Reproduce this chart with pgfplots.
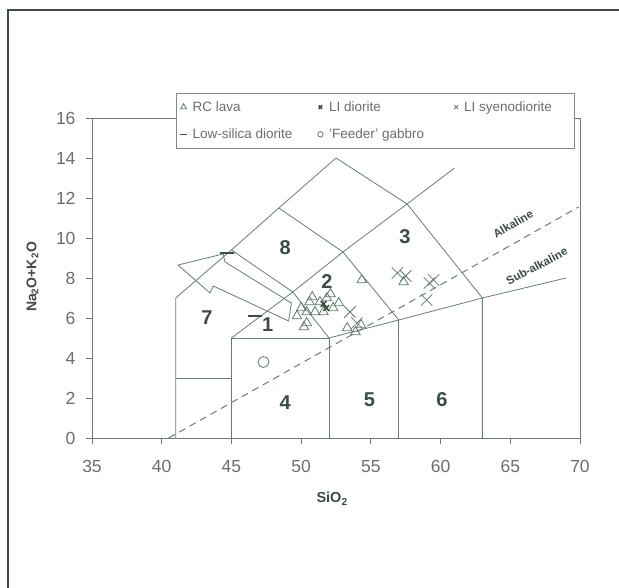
\documentclass[border=0pt]{standalone}
\usepackage{fontspec}
\setmainfont{Liberation Sans}
\usepackage{pgfplots}
\pgfplotsset{compat=1.18}
\definecolor{lc}{RGB}{100,128,110}
\definecolor{tc}{RGB}{105,112,106}
\definecolor{dk}{RGB}{60,76,66}
\definecolor{mk}{RGB}{95,125,105}
\begin{document}
\begin{tikzpicture}[x=1pt,y=1pt]
\path[use as bounding box,fill=white] (0,0) rectangle (619,588);
\draw[dk, line width=2.5pt] (8,0) -- (8,578) -- (619,578);
\begin{axis}[
  at={(92pt,150pt)}, anchor=south west, scale only axis,
  width=488pt, height=320pt,
  xmin=35, xmax=70, ymin=0, ymax=16,
  xtick={35,40,...,70}, ytick={0,2,...,16},
  tick align=outside, xtick pos=bottom, ytick pos=left,
  major tick length=6pt,
  axis line style={lc, line width=0.9pt},
  every tick/.style={lc, line width=0.9pt},
  /pgf/number format/assume math mode=true,
  ticklabel style={font=\fontsize{17.5}{20}\selectfont, text=tc},
  xticklabel style={yshift=-13pt},
  yticklabel style={xshift=-7pt},
  xlabel={SiO\textsubscript{2}},
  ylabel={Na\textsubscript{2}O+K\textsubscript{2}O},
  every axis x label/.style={at={(axis description cs:0.492,-0.19)}, anchor=center,
    font=\bfseries\fontsize{14.5}{16}\selectfont, text=dk},
  every axis y label/.style={at={(axis description cs:-0.122,0.503)}, rotate=90, anchor=center,
    font=\bfseries\fontsize{14}{16}\selectfont, text=dk},
  clip=false,
  legend columns=3,
  legend cell align=left,
  legend style={at={(axis description cs:0.172,1.078)}, anchor=north west,
    draw={rgb,255:red,130;green,136;blue,131}, line width=0.8pt, fill=white,
    font=\fontsize{13.5}{15}\selectfont, text=tc,
    inner xsep=4pt, inner ysep=6pt, row sep=12pt,
    /tikz/every odd column/.append style={column sep=4pt}},
]
% ---- field boundaries ----
\addplot[lc, line width=0.8pt, forget plot] coordinates {(41,0) (41,7) (45,9.4) (48.4,11.5) (52.5,14) (57.6,11.7) (63,7) (63,0)};
\addplot[lc, line width=0.8pt, forget plot] coordinates {(41,3) (45,3)};
\addplot[lc, line width=0.8pt, forget plot] coordinates {(45,0) (45,5) (52,5) (52,0)};
\addplot[lc, line width=0.8pt, forget plot] coordinates {(45,5) (49.4,7.3) (53,9.3) (57.6,11.7) (61,13.5)};
\addplot[lc, line width=0.8pt, forget plot] coordinates {(52,5) (57,5.9) (63,7) (69,8)};
\addplot[lc, line width=0.8pt, forget plot] coordinates {(57,0) (57,5.9)};
\addplot[lc, line width=0.8pt, forget plot] coordinates {(49.4,7.3) (52,5)};
\addplot[lc, line width=0.8pt, forget plot] coordinates {(53,9.3) (57,5.9)};
\addplot[lc, line width=0.8pt, forget plot] coordinates {(45,9.4) (49.4,7.3)};
\addplot[lc, line width=0.8pt, forget plot] coordinates {(48.4,11.5) (53,9.3)};
% alkaline / sub-alkaline divide
\addplot[lc, line width=1pt, dash pattern=on 7pt off 5pt, forget plot] coordinates {(40.5,0) (69.9,11.55)};
% open arrow
\addplot[lc, line width=0.8pt, forget plot] coordinates {(41.17,8.65) (44.4,9.2) (44.54,8.8) (49.3,6.75) (49.1,5.85) (43.7,7.6) (43.46,7.25) (41.17,8.65)};
% ---- data ----
\addplot[only marks, mark=triangle, mark size=5.5pt, mark options={mk, line width=0.8pt},
  legend image code/.code={\draw[mk, line width=0.6pt, mark=triangle, mark size=3.4pt] plot coordinates {(0pt,0pt)};}]
  coordinates {(49.7,6.1) (50.0,6.5) (50.4,5.75) (50.2,5.55) (50.8,7.05) (50.4,6.3) (51.0,6.3) (51.35,6.8) (51.85,7.0) (51.6,6.3) (52.3,6.5) (52.7,6.75) (52.1,7.2) (50.6,6.8) (54.35,7.9) (53.3,5.5) (54.3,5.65) (53.9,5.3) (57.35,7.8)};
\addlegendentry{\makebox[123pt][l]{RC lava}}
\addplot[only marks, mark=x, mark size=4pt, mark options={dk, line width=1.6pt},
  legend image code/.code={\draw[dk, line width=1.1pt, mark=x, mark size=2.4pt] plot coordinates {(0pt,0pt)};}]
  coordinates {(51.6,6.7) (51.8,6.5)};
\addlegendentry{\makebox[123pt][l]{LI diorite}}
\addplot[only marks, mark=x, mark size=8pt, mark options={mk, line width=0.8pt},
  legend image code/.code={\draw[mk, line width=0.6pt, mark=x, mark size=2.8pt] plot coordinates {(0pt,0pt)};}]
  coordinates {(53.5,6.3) (54.0,5.75) (56.9,8.25) (57.5,8.1) (59.2,7.75) (59.5,7.9) (59.0,6.9)};
\addlegendentry{\makebox[104pt][l]{LI syenodiorite}}
\addplot[only marks, mark=-, mark size=7pt, mark options={dk, line width=1.3pt},
  legend image code/.code={\draw[dk, line width=1.3pt, mark=-, mark size=3.2pt] plot coordinates {(0pt,0pt)};}]
  coordinates {(44.7,9.25) (46.7,6.1)};
\addlegendentry{\makebox[123pt][l]{Low-silica diorite}}
\addplot[only marks, mark=o, mark size=5.5pt, mark options={mk, line width=0.8pt},
  legend image code/.code={\draw[mk, line width=0.6pt, mark=o, mark size=2.7pt] plot coordinates {(0pt,0pt)};}]
  coordinates {(47.3,3.8)};
\addlegendentry{\makebox[123pt][l]{'Feeder' gabbro}}
% ---- field labels ----
\begin{scope}[every node/.style={font=\bfseries\fontsize{20}{22}\selectfont, text=dk}]
\node at (axis cs:48.85,9.5) {8};
\node at (axis cs:57.45,10.05) {3};
\node at (axis cs:51.85,7.8) {2};
\node at (axis cs:43.25,6.0) {7};
\node at (axis cs:47.6,5.65) {1};
\node at (axis cs:48.85,1.75) {4};
\node at (axis cs:54.9,1.9) {5};
\node at (axis cs:60.1,1.9) {6};
\end{scope}
\node[font=\bfseries\fontsize{11.5}{12}\selectfont, text=dk, rotate=30, inner sep=0pt] at (axis cs:65.2,10.7) {Alkaline};
\node[font=\bfseries\fontsize{11.5}{12}\selectfont, text=dk, rotate=28, inner sep=0pt] at (axis cs:66.9,8.6) {Sub-alkaline};
\end{axis}
\end{tikzpicture}
\end{document}
